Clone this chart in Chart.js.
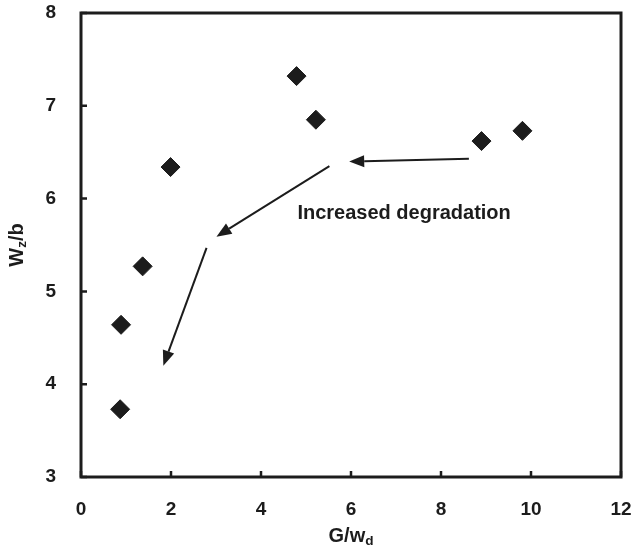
<!DOCTYPE html>
<html>
<head>
<meta charset="utf-8">
<script src="https://cdn.jsdelivr.net/npm/chart.js@4.4.1/dist/chart.umd.min.js"></script>
<style>
  html, body { margin: 0; padding: 0; background: #fff; }
  #wrap { width: 633px; height: 548px; }
</style>
</head>
<body>
<div id="wrap"><canvas id="degChart"></canvas></div>
<script>
// measured points
const gOverWd = [0.87, 0.89, 1.37, 1.99, 4.79, 5.22, 8.90, 9.81];
const wzOverB = [3.73, 4.64, 5.27, 6.34, 7.32, 6.85, 6.62, 6.73];

const xTicks = [0, 2, 4, 6, 8, 10, 12];
const yTicks = [3, 4, 5, 6, 7, 8];

// arrows: start and end (tip) in data units
const arrowFromX = [8.62, 5.52, 2.79];
const arrowFromY = [6.43, 6.35, 5.47];
const arrowToX = [5.96, 3.01, 1.83];
const arrowToY = [6.40, 5.59, 4.20];

const noteText = "Increased degradation";
const noteX = 7.18;
const noteY = 5.84;

const ink = "#1c1c1c";
const fontFam = "'Liberation Sans', Arial, sans-serif";

const points = gOverWd.map((x, i) => ({ x: x, y: wzOverB[i] }));

// text with a subscript part, drawn left to right from x
function drawSubText(ctx, parts, x, y, size) {
    let cx = x;
    parts.forEach(p => {
        const s = p.sub ? size * 0.68 : size;
        ctx.font = "bold " + s + "px " + fontFam;
        ctx.fillText(p.t, cx, y + (p.sub ? size * 0.28 : 0));
        cx += ctx.measureText(p.t).width;
    });
    return cx - x;
}
function subTextWidth(ctx, parts, size) {
    let w = 0;
    parts.forEach(p => {
        const s = p.sub ? size * 0.68 : size;
        ctx.font = "bold " + s + "px " + fontFam;
        w += ctx.measureText(p.t).width;
    });
    return w;
}

const framePlugin = {
    id: "frame",
    afterDatasetsDraw(chart) {
        const ctx = chart.ctx;
        const a = chart.chartArea;
        const xs = chart.scales.x;
        const ys = chart.scales.y;
        ctx.save();

        // arrows
        ctx.strokeStyle = ink;
        ctx.fillStyle = ink;
        ctx.lineWidth = 2;
        arrowFromX.forEach((fx, i) => {
            const x1 = xs.getPixelForValue(fx), y1 = ys.getPixelForValue(arrowFromY[i]);
            const x2 = xs.getPixelForValue(arrowToX[i]), y2 = ys.getPixelForValue(arrowToY[i]);
            const ang = Math.atan2(y2 - y1, x2 - x1);
            const hl = 15, hw = 6;
            const bx = x2 - hl * Math.cos(ang), by = y2 - hl * Math.sin(ang);
            ctx.beginPath();
            ctx.moveTo(x1, y1);
            ctx.lineTo(bx, by);
            ctx.stroke();
            ctx.beginPath();
            ctx.moveTo(x2, y2);
            ctx.lineTo(bx + hw * Math.sin(ang), by - hw * Math.cos(ang));
            ctx.lineTo(bx - hw * Math.sin(ang), by + hw * Math.cos(ang));
            ctx.closePath();
            ctx.fill();
        });

        // annotation
        ctx.font = "bold 20px " + fontFam;
        ctx.textAlign = "center";
        ctx.textBaseline = "middle";
        ctx.fillText(noteText, xs.getPixelForValue(noteX), ys.getPixelForValue(noteY));

        // box
        ctx.lineWidth = 3;
        ctx.strokeStyle = ink;
        ctx.strokeRect(a.left, a.top, a.right - a.left, a.bottom - a.top);

        // inward tick marks
        ctx.lineWidth = 2.5;
        ctx.beginPath();
        xTicks.forEach(v => {
            const px = xs.getPixelForValue(v);
            ctx.moveTo(px, a.bottom);
            ctx.lineTo(px, a.bottom - 6);
        });
        yTicks.forEach(v => {
            const py = ys.getPixelForValue(v);
            ctx.moveTo(a.left, py);
            ctx.lineTo(a.left + 6, py);
        });
        ctx.stroke();

        // axis titles with subscripts
        ctx.textAlign = "left";
        ctx.textBaseline = "middle";
        const xt = [{ t: "G/w" }, { t: "d", sub: true }];
        const xw = subTextWidth(ctx, xt, 20);
        drawSubText(ctx, xt, (a.left + a.right) / 2 - xw / 2, 536, 20);

        const yt = [{ t: "W" }, { t: "z", sub: true }, { t: "/b" }];
        const yw = subTextWidth(ctx, yt, 20);
        ctx.translate(17, (a.top + a.bottom) / 2);
        ctx.rotate(-Math.PI / 2);
        drawSubText(ctx, yt, -yw / 2, 0, 20);
        ctx.restore();
    }
};

new Chart(document.getElementById("degChart"), {
    type: "scatter",
    data: {
        datasets: [{
            data: points,
            pointStyle: "rectRot",
            pointRadius: 9.5,
            pointHoverRadius: 9.5,
            backgroundColor: ink,
            borderColor: ink,
            borderWidth: 1
        }]
    },
    options: {
        responsive: true,
        maintainAspectRatio: false,
        animation: false,
        events: [],
        layout: {
            padding: { top: 13, right: 12, left: 0, bottom: 0 }
        },
        plugins: {
            legend: { display: false },
            tooltip: { enabled: false }
        },
        scales: {
            x: {
                type: "linear",
                min: 0,
                max: 12,
                afterFit(scale) {
                    scale.height = 71;
                    scale.paddingLeft = 0;
                    scale.paddingRight = 0;
                },
                afterBuildTicks(scale) { scale.ticks = xTicks.map(v => ({ value: v })); },
                grid: { display: false },
                border: { display: false },
                ticks: {
                    color: ink,
                    padding: 13,
                    maxRotation: 0,
                    font: { family: fontFam, size: 19, weight: "bold" }
                }
            },
            y: {
                type: "linear",
                min: 3,
                max: 8,
                afterFit(scale) {
                    scale.width = 81;
                    scale.paddingTop = 0;
                    scale.paddingBottom = 0;
                },
                afterBuildTicks(scale) { scale.ticks = yTicks.map(v => ({ value: v })); },
                grid: { display: false },
                border: { display: false },
                ticks: {
                    color: ink,
                    padding: 17,
                    font: { family: fontFam, size: 19, weight: "bold" }
                }
            }
        }
    },
    plugins: [framePlugin]
});
</script>
</body>
</html>
